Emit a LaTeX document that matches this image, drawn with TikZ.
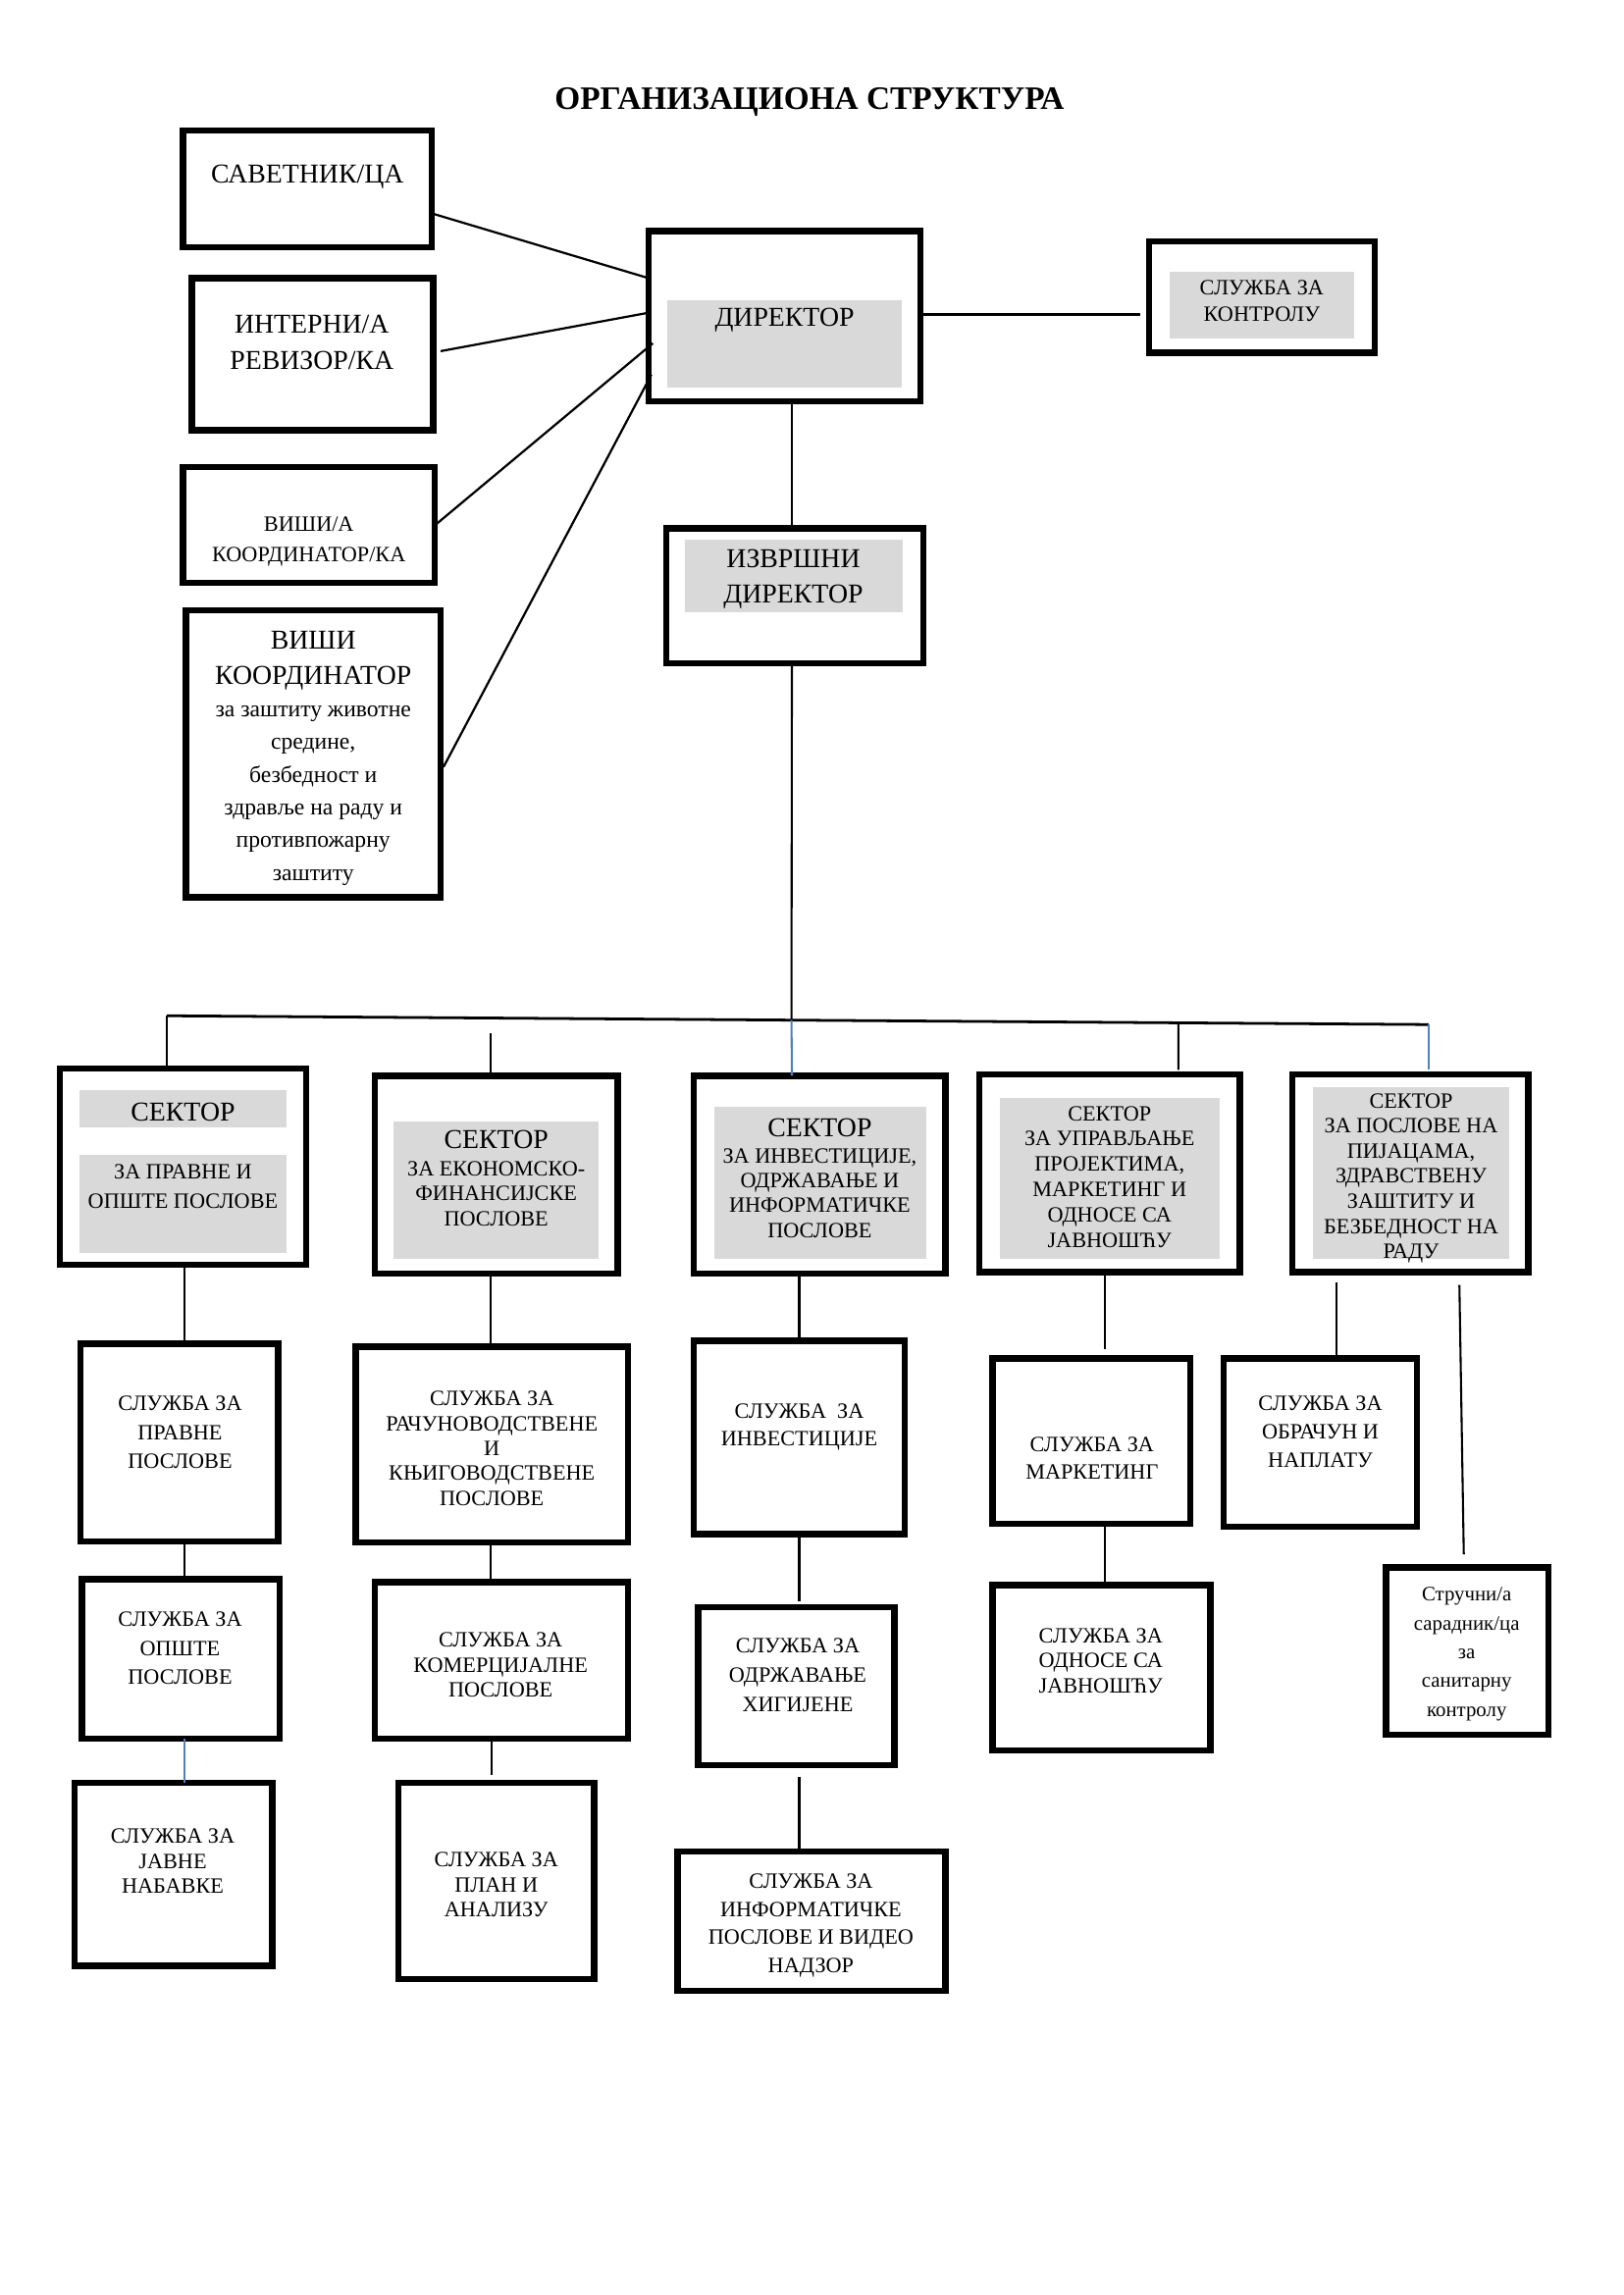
\documentclass[tikz,border=0pt]{standalone}
\usepackage{fontspec}
\setmainfont{Liberation Serif}
\usetikzlibrary{calc}
\definecolor{boxgray}{HTML}{D9D9D9}
\definecolor{linkblue}{HTML}{4F81BD}
\newcommand{\setfs}[2]{\fontsize{#1}{#2}\selectfont}
\newcommand{\obox}[5]{\node[obox, minimum width={(#4-#2)*0.5368pt}, minimum height={(#5-#3)*0.5368pt}] (#1) at ({(#2+#4)/2},{(#3+#5)/2}) {};}
\newcommand{\gbox}[5]{\node[gbox, minimum width={(#4-#2)*0.5368pt}, minimum height={(#5-#3)*0.5368pt}] (#1) at ({(#2+#4)/2},{(#3+#5)/2}) {};}
\tikzset{
  obox/.style={draw, rectangle, line width=2.3pt, inner sep=0pt, outer sep=0pt},
  gbox/.style={fill=boxgray, draw=none, rectangle, inner sep=0pt, outer sep=0pt},
  lbl/.style={align=center, inner sep=0pt, yshift=-1.4pt},
  conn/.style={line width=0.8pt},
  vconn/.style={line width=0.75pt},
}
\begin{document}
\begin{tikzpicture}[x=0.5368pt, y=-0.5368pt]
\useasboundingbox (0,0) rectangle (1109,1568);

% title
\node[lbl, font=\bfseries\setfs{12}{14}] (title) at (553,67) {ОРГАНИЗАЦИОНА СТРУКТУРА};

% gray fills
\gbox{gdir}{456}{205}{616}{265}
\gbox{gctl}{799}{186}{925}{231}
\gbox{gexe}{468}{369}{617}{418}
\gbox{gsa}{54}{745}{196}{770}
\gbox{gsb}{54}{789}{196}{856}
\gbox{gs2}{269}{766}{409}{860}
\gbox{gs3}{488}{756}{633}{860}
\gbox{gs4}{683}{750}{833}{860}
\gbox{gs5}{897}{743}{1031}{860}

% outer boxes
\obox{sav}{125}{89}{295}{169}
\obox{int}{131}{190}{296}{294}
\obox{vka}{125}{319}{297}{398}
\obox{vk}{127}{417}{301}{613}
\obox{dir}{443}{158}{629}{274}
\obox{ctl}{785}{165}{939}{241}
\obox{exe}{455}{361}{631}{453}
\obox{s1}{41}{730}{209}{864}
\obox{s2}{256}{735}{422}{870}
\obox{s3}{474}{735}{646}{870}
\obox{s4}{669}{734}{847}{869}
\obox{s5}{883}{734}{1044}{869}
\obox{a1}{55}{918}{190}{1053}
\obox{a2}{56}{1079}{191}{1188}
\obox{a3}{51}{1218}{186}{1343}
\obox{b1}{243}{920}{429}{1054}
\obox{b2}{256}{1081}{429}{1188}
\obox{b3}{272}{1218}{406}{1352}
\obox{c1}{474}{916}{618}{1048}
\obox{c2}{477}{1098}{611}{1206}
\obox{c3}{463}{1265}{646}{1360}
\obox{d1}{678}{928}{813}{1041}
\obox{d2}{678}{1083}{827}{1196}
\obox{e1}{836}{928}{968}{1043}
\obox{e2}{947}{1071}{1058}{1185}

% labels
\node[lbl, font=\setfs{10}{12}] (tsav) at (210,118) {САВЕТНИК/ЦА};
\node[lbl, font=\setfs{10}{13.4}] (tint) at (213,231.5) {ИНТЕРНИ/А\\РЕВИЗОР/КА};
\node[lbl, font=\setfs{8}{11.3}] (tvka) at (211,367.5) {ВИШИ/А\\КООРДИНАТОР/КА};
\node[lbl, font=\setfs{10}{12.9}] (tvk1) at (214,449) {ВИШИ\\КООРДИНАТОР};
\node[lbl, font=\setfs{8.5}{12}] (tvk2) at (214,541) {за заштиту животне\\средине,\\безбедност и\\здравље на раду и\\противпожарну\\заштиту};
\node[lbl, font=\setfs{10}{12}] (tdir) at (536,216) {ДИРЕКТОР};
\node[lbl, font=\setfs{8}{9.7}] (tctl) at (862,203) {СЛУЖБА ЗА\\КОНТРОЛУ};
\node[lbl, font=\setfs{10}{12.9}] (texe) at (542,393) {ИЗВРШНИ\\ДИРЕКТОР};

\node[lbl, font=\setfs{10}{12}] (ts1a) at (125,757) {СЕКТОР};
\node[lbl, font=\setfs{8}{10.7}] (ts1b) at (125,808) {ЗА ПРАВНЕ И\\ОПШТЕ ПОСЛОВЕ};
\node[lbl, font=\setfs{10}{12}] (ts2a) at (339,776) {СЕКТОР};
\node[lbl, font=\setfs{8}{9.1}] (ts2b) at (339,813) {ЗА ЕКОНОМСКО-\\ФИНАНСИЈСКЕ\\ПОСЛОВЕ};
\node[lbl, font=\setfs{10}{12}] (ts3a) at (560,768) {СЕКТОР};
\node[lbl, font=\setfs{8}{9.1}] (ts3b) at (560,812.5) {ЗА ИНВЕСТИЦИЈЕ,\\ОДРЖАВАЊЕ И\\ИНФОРМАТИЧКЕ\\ПОСЛОВЕ};
\node[lbl, font=\setfs{8}{9.3}] (ts4) at (758,801.5) {СЕКТОР\\ЗА УПРАВЉАЊЕ\\ПРОЈЕКТИМА,\\МАРКЕТИНГ И\\ОДНОСЕ СА\\ЈАВНОШЋУ};
\node[lbl, font=\setfs{8}{9.2}] (ts5) at (964,802.5) {СЕКТОР\\ЗА ПОСЛОВЕ НА\\ПИЈАЦАМА,\\ЗДРАВСТВЕНУ\\ЗАШТИТУ И\\БЕЗБЕДНОСТ НА\\РАДУ};

\node[lbl, font=\setfs{8}{10.7}] (ta1) at (123,976) {СЛУЖБА ЗА\\ПРАВНЕ\\ПОСЛОВЕ};
\node[lbl, font=\setfs{8}{10.5}] (ta2) at (123,1123.5) {СЛУЖБА ЗА\\ОПШТЕ\\ПОСЛОВЕ};
\node[lbl, font=\setfs{8}{9.1}] (ta3) at (118,1269) {СЛУЖБА ЗА\\ЈАВНЕ\\НАБАВКЕ};
\node[lbl, font=\setfs{8}{9.1}] (tb1) at (336,987) {СЛУЖБА ЗА\\РАЧУНОВОДСТВЕНЕ\\И\\КЊИГОВОДСТВЕНЕ\\ПОСЛОВЕ};
\node[lbl, font=\setfs{8}{9.1}] (tb2) at (342,1135) {СЛУЖБА ЗА\\КОМЕРЦИЈАЛНЕ\\ПОСЛОВЕ};
\node[lbl, font=\setfs{8}{9.1}] (tb3) at (339,1285) {СЛУЖБА ЗА\\ПЛАН И\\АНАЛИЗУ};
\node[lbl, font=\setfs{8}{10.2}] (tc1) at (546,972.5) {СЛУЖБА\ \ ЗА\\ИНВЕСТИЦИЈЕ};
\node[lbl, font=\setfs{8}{10.7}] (tc2) at (545,1142) {СЛУЖБА ЗА\\ОДРЖАВАЊЕ\\ХИГИЈЕНЕ};
\node[lbl, font=\setfs{8}{10.4}] (tc3) at (554,1313) {СЛУЖБА ЗА\\ИНФОРМАТИЧКЕ\\ПОСЛОВЕ И ВИДЕО\\НАДЗОР};
\node[lbl, font=\setfs{8}{10.2}] (td1) at (746,993.5) {СЛУЖБА ЗА\\МАРКЕТИНГ};
\node[lbl, font=\setfs{8}{9.1}] (td2) at (752,1132) {СЛУЖБА ЗА\\ОДНОСЕ СА\\ЈАВНОШЋУ};
\node[lbl, font=\setfs{8}{10.5}] (te1) at (902,975.5) {СЛУЖБА ЗА\\ОБРАЧУН И\\НАПЛАТУ};
\node[lbl, font=\setfs{7.5}{10.6}] (te2) at (1002,1127.5) {Стручни/а\\сарадник/ца\\за\\санитарну\\контролу};

% connectors to director
\draw[conn] ($(sav.north east)!0.71!(sav.south east)$) -- ($(dir.north west)!0.276!(dir.south west)$);
\draw[conn] ($(int.north east)!0.48!(int.south east)+(5,0)$) -- ($(dir.north west)!0.48!(dir.south west)$);
\draw[conn] ($(vka.north east)!0.506!(vka.south east)$) -- ($(dir.north west)!0.66!(dir.south west)+(3,0)$);
\draw[conn] ($(vk.north east)!0.546!(vk.south east)+(2,0)$) -- ($(dir.north west)!0.845!(dir.south west)+(2,0)$);
\draw[conn] ($(dir.north east)!0.49!(dir.south east)$) coordinate (dE) -- ($(ctl.west |- dE)+(-6,0)$);
\draw[vconn] ($(dir.south)+(5,0)$) -- ($(exe.north)+(-2,0)$);

% bus
\coordinate (busL) at (114,694);
\coordinate (busR) at (976,700);
\draw[line width=1pt] (busL) -- (busR);
\draw[vconn] ($(exe.south)+(-2,0)$) -- ($(busL)!0.495!(busR)$);
\draw[vconn] (busL) -- ($(s1.north)+(-11,0)$);
\draw[vconn] ($(s2.north)+(-4,-29)$) -- ($(s2.north)+(-4,0)$);
\draw[vconn, linkblue] ($(busL)!0.495!(busR)$) -- ($(s3.north)+(-19,0)$);
\draw[vconn] ($(busL)!0.8016!(busR)$) -- ($(s4.north)+(47,-3)$);
\draw[vconn, linkblue] (busR) -- ($(s5.north)+(12.5,-3)$);

% columns
\draw[vconn] ($(s1.south)+(1,0)$) -- ($(a1.north)+(3.5,0)$);
\draw[vconn] ($(a1.south)+(3.5,0)$) -- ($(a2.north)+(2.5,0)$);
\draw[vconn, linkblue] ($(a2.south)+(2.5,0)$) -- ($(a3.north)+(7.5,0)$);

\draw[vconn] ($(s2.south)+(-4,0)$) -- ($(b1.north)+(-1,0)$);
\draw[vconn] ($(b1.south)+(-1,0)$) -- ($(b2.north)+(-7.5,0)$);
\draw[vconn] ($(b2.south)+(-6.5,0)$) -- ($(b3.north)+(-3,-5)$);

\draw[vconn] ($(s3.south)+(-14,0)$) -- (c1.north);
\draw[vconn] (c1.south) -- ($(c2.north)+(2,-4)$);
\draw[vconn] ($(c2.south)+(2,8)$) -- ($(c3.north)+(-8.5,0)$);

\draw[vconn] ($(s4.south)+(-3,0)$) -- ($(d1.north)+(9.5,-6)$);
\draw[vconn] ($(d1.south)+(9.5,0)$) -- ($(d2.north)+(2.5,0)$);

\draw[vconn] ($(s5.south)+(-50.5,7)$) -- ($(e1.north)+(11,-2)$);
\draw[vconn] ($(s5.south)+(33.5,9)$) -- ($(e2.north)+(-2.5,-9)$);
\end{tikzpicture}
\end{document}
